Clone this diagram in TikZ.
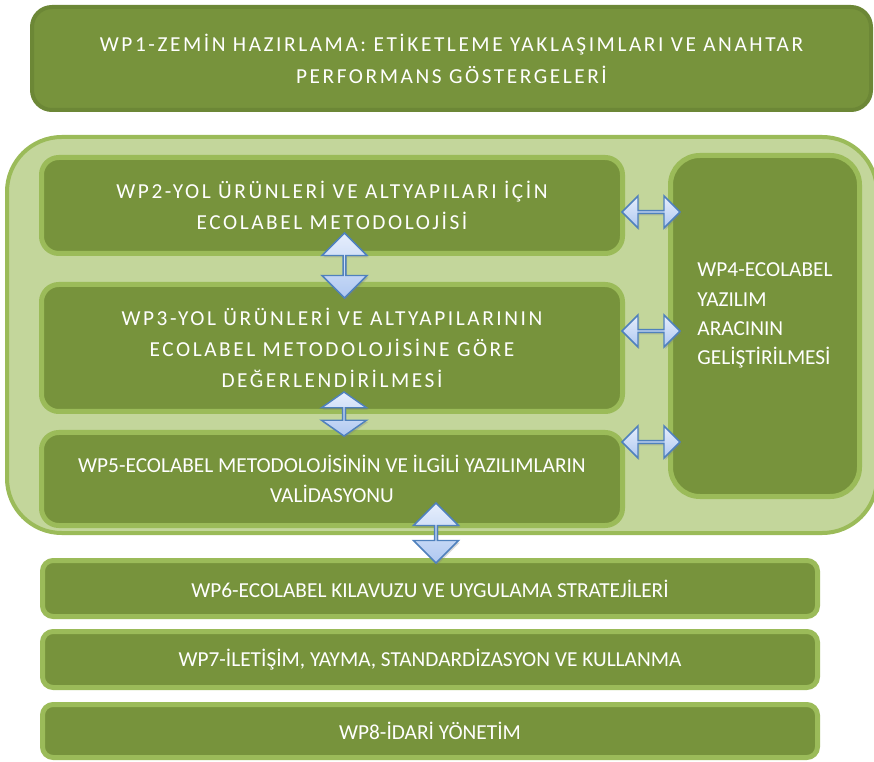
\documentclass[tikz,border=0pt]{standalone}
\usepackage{fontspec}
\setmainfont{Carlito}
\newfontfamily\wpwide[LetterSpace=12]{Carlito}
\usetikzlibrary{shapes.arrows,shadows}
\definecolor{wpfill}{HTML}{77933C}
\definecolor{wpline}{HTML}{9BBB59}
\definecolor{wpdark}{HTML}{6C8736}
\definecolor{grpfill}{HTML}{C3D69B}
\definecolor{arrline}{HTML}{4F81BD}
\definecolor{arrtop}{HTML}{E6EEFC}
\definecolor{arrbot}{HTML}{AFC8F1}
\tikzset{
wpbox/.style={draw=wpline,line width=3.75pt,fill=wpfill,rounded corners=13pt,text=white,align=center,inner sep=0pt,
font=\fontsize{16}{22}\selectfont},
widebox/.style={wpbox,font=\wpwide\fontsize{16}{23.5}\selectfont},
topbox/.style={widebox,draw=wpdark,line width=3pt,rounded corners=15pt,font=\wpwide\fontsize{16}{24}\selectfont},
sidebox/.style={wpbox,rounded corners=22pt,align=left},
barbox/.style={wpbox,rounded corners=8pt,minimum width=581.25pt},
grpbox/.style={draw=wpline,line width=3pt,fill=grpfill,rounded corners=41pt},
dblarrow/.style={double arrow,draw=arrline,line width=1.1pt,top color=arrtop,bottom color=arrbot,inner sep=0pt,
drop shadow={shadow xshift=1pt,shadow yshift=-1.5pt,opacity=0.3}},
harrow/.style={dblarrow,minimum height=43.5pt,minimum width=24pt,double arrow head extend=5.6pt},
varrow/.style={dblarrow,shape border rotate=90,minimum width=33.75pt,double arrow head extend=8.6pt}
}
\begin{document}
\begin{tikzpicture}[x=0.75pt,y=-0.75pt]
\useasboundingbox (0,0) rectangle (874,762);
% work packages
\node[grpbox,minimum width=652.5pt,minimum height=297pt] (grp) at (442,335) {};
\node[topbox,minimum width=629.25pt,minimum height=77.25pt] (wp1) at (451.5,58.5)
  {WP1-ZEMİN HAZIRLAMA: ETİKETLEME YAKLAŞIMLARI VE ANAHTAR\\PERFORMANS GÖSTERGELERİ};
\node[widebox,minimum width=435.75pt,minimum height=72pt] (wp2) at (332,205.5)
  {WP2-YOL ÜRÜNLERİ VE ALTYAPILARI İÇİN\\ECOLABEL METODOLOJİSİ};
\node[widebox,minimum width=435.75pt,minimum height=95.25pt] (wp3) at (332,348)
  {WP3-YOL ÜRÜNLERİ VE ALTYAPILARININ\\ECOLABEL METODOLOJİSİNE GÖRE\\DEĞERLENDİRİLMESİ};
\node[wpbox,minimum width=435.75pt,minimum height=69.75pt] (wp5) at (332,479)
  {WP5-ECOLABEL METODOLOJİSİNİN VE İLGİLİ YAZILIMLARIN\\VALİDASYONU};
\node[sidebox,minimum width=141.75pt,minimum height=255.75pt] (wp4) at (765,326)
  {WP4-ECOLABEL\\YAZILIM\\ARACININ\\GELİŞTİRİLMESİ\\[-4pt]};
\node[barbox,minimum height=42pt] (wp6) at (430,588.5) {WP6-ECOLABEL KILAVUZU VE UYGULAMA STRATEJİLERİ};
\node[barbox,minimum height=42pt] (wp7) at (430,659.5) {WP7-İLETİŞİM, YAYMA, STANDARDİZASYON VE KULLANMA};
\node[barbox,minimum height=39.75pt] (wp8) at (430,731) {WP8-İDARİ YÖNETİM};
% links
\node[harrow] (h24) at (651,212) {};
\node[harrow] (h34) at (651,331) {};
\node[harrow] (h54) at (651,442) {};
\node[varrow,minimum height=48.75pt] (v23) at (344.5,265.5) {};
\node[varrow,minimum height=33pt,double arrow tip angle=110] (v35) at (344,414) {};
\node[varrow,minimum height=45pt] (v56) at (436,533) {};
\end{tikzpicture}
\end{document}
